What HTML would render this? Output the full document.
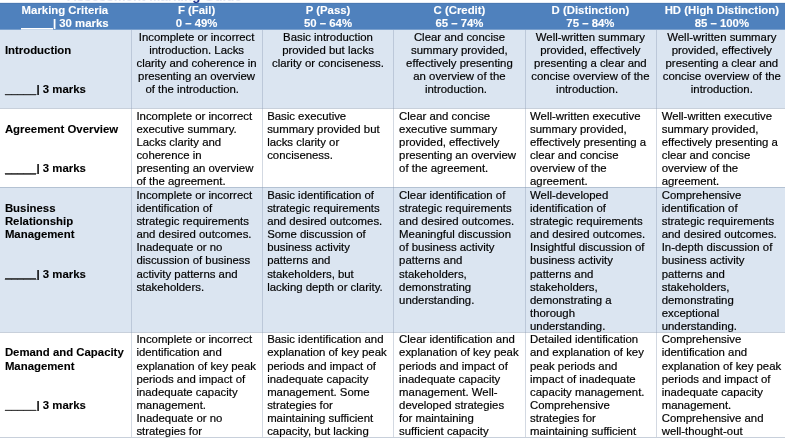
<!DOCTYPE html>
<html><head><meta charset="utf-8"><title>Marking Criteria</title>
<style>
html,body{margin:0;padding:0;background:#fff;}
body{width:785px;height:442px;position:relative;overflow:hidden;font-family:"Liberation Sans",Arial,sans-serif;font-size:11.39px;line-height:13.17px;color:#000;}
.bg{position:absolute;left:0;width:785px;}
.hd{background:#4f81bd;}
.lb{background:#dbe5f1;}
.vl{position:absolute;width:1px;background:#8496b0;opacity:.36;}
.hl{position:absolute;left:0;width:785px;height:1px;background:#8496b0;opacity:.45;}
.ul{position:absolute;}
.c{position:absolute;white-space:nowrap;-webkit-text-stroke:0.18px currentColor;}
.c div{height:13.17px;}
.h{color:#fff;font-weight:bold;text-align:center;-webkit-text-stroke:0.1px currentColor;}
.b{font-weight:bold;-webkit-text-stroke:0.1px currentColor;}
.ctr{text-align:center;}
.title{position:absolute;left:67px;color:#1f3590;font-weight:bold;font-size:13.33px;line-height:15px;top:-12.1px;z-index:5;text-shadow:0 1px 0 rgba(31,53,144,.13);white-space:nowrap;}
</style></head><body>

<div class="title">Assessment Marking Guide</div>
<div class="bg hd" style="top:3px;height:26.5px"></div>
<div class="bg lb" style="top:29.5px;height:78.8px"></div>
<div class="bg lb" style="top:187.3px;height:145.0px"></div>
<div class="bg" style="top:2px;height:1px;background:#e5ecf5"></div>
<div class="bg" style="top:3px;height:1px;background:#4b79b2"></div>
<div class="bg" style="top:29px;height:1px;background:#7aa0cd"></div>
<div class="ul" style="left:21px;top:28px;width:32px;height:1px;background:#fff"></div>
<div class="ul" style="left:21px;top:29px;width:32px;height:1px;background:#fff;opacity:.6"></div>
<div class="ul" style="left:5px;top:94px;width:31px;height:1px;background:#1c1c1c;opacity:0.65"></div>
<div class="ul" style="left:5px;top:95px;width:31px;height:1px;background:#1c1c1c;opacity:0.2"></div>
<div class="ul" style="left:5px;top:173px;width:31px;height:1px;background:#1c1c1c;opacity:0.6"></div>
<div class="ul" style="left:5px;top:174px;width:31px;height:1px;background:#1c1c1c;opacity:0.65"></div>
<div class="ul" style="left:5px;top:278px;width:31px;height:1px;background:#1c1c1c;opacity:0.8"></div>
<div class="ul" style="left:5px;top:279px;width:31px;height:1px;background:#1c1c1c;opacity:0.4"></div>
<div class="ul" style="left:5px;top:409px;width:31px;height:1px;background:#1c1c1c;opacity:0.15"></div>
<div class="ul" style="left:5px;top:410px;width:31px;height:1px;background:#1c1c1c;opacity:0.65"></div>
<div class="hl" style="top:107.8px"></div>
<div class="hl" style="top:186.8px"></div>
<div class="hl" style="top:331.8px"></div>
<div class="hl" style="top:436.8px"></div>
<div class="vl" style="left:131.1px;top:29.5px;height:407.8px"></div>
<div class="vl" style="left:262.1px;top:29.5px;height:407.8px"></div>
<div class="vl" style="left:392.9px;top:29.5px;height:407.8px"></div>
<div class="vl" style="left:525.0px;top:29.5px;height:407.8px"></div>
<div class="vl" style="left:656.2px;top:29.5px;height:407.8px"></div>
<div class="c h" style="left:-0.9px;width:131.6px;top:4.2px"><div>Marking Criteria</div><div>_____| 30 marks</div></div>
<div class="c h" style="left:131.1px;width:131.00000000000003px;top:4.2px"><div>F (Fail)</div><div>0 – 49%</div></div>
<div class="c h" style="left:262.6px;width:130.79999999999995px;top:4.2px"><div>P (Pass)</div><div>50 – 64%</div></div>
<div class="c h" style="left:393.4px;width:132.10000000000002px;top:4.2px"><div>C (Credit)</div><div>65 – 74%</div></div>
<div class="c h" style="left:524.8px;width:131.20000000000005px;top:4.2px"><div>D (Distinction)</div><div>75 – 84%</div></div>
<div class="c h" style="left:657.7px;width:128.29999999999995px;top:4.2px"><div>HD (High Distinction)</div><div>85 – 100%</div></div>
<div class="c b" style="left:4.9px;top:30.7px"><div></div><div>Introduction</div><div></div><div></div><div>_____| 3 marks</div></div>
<div class="c ctr" style="left:131.1px;width:131.00000000000003px;top:30.7px"><div>Incomplete or incorrect</div><div>introduction. Lacks</div><div>clarity and coherence in</div><div>presenting an overview</div><div style="position:relative;left:-4.4px">of the introduction.</div></div>
<div class="c ctr" style="left:262.6px;width:130.79999999999995px;top:30.7px"><div>Basic introduction</div><div>provided but lacks</div><div>clarity or conciseness.</div></div>
<div class="c ctr" style="left:393.4px;width:132.10000000000002px;top:30.7px"><div>Clear and concise</div><div>summary provided,</div><div>effectively presenting</div><div>an overview of the</div><div style="position:relative;left:-3.5px">introduction.</div></div>
<div class="c ctr" style="left:524.8px;width:131.20000000000005px;top:30.7px"><div>Well-written summary</div><div>provided, effectively</div><div>presenting a clear and</div><div>concise overview of the</div><div style="position:relative;left:-3.3px">introduction.</div></div>
<div class="c ctr" style="left:657.7px;width:128.29999999999995px;top:30.7px"><div>Well-written summary</div><div>provided, effectively</div><div>presenting a clear and</div><div>concise overview of the</div><div>introduction.</div></div>
<div class="c b" style="left:4.9px;top:109.7px"><div></div><div>Agreement Overview</div><div></div><div></div><div>_____| 3 marks</div></div>
<div class="c" style="left:136.4px;top:109.7px"><div>Incomplete or incorrect</div><div>executive summary.</div><div>Lacks clarity and</div><div>coherence in</div><div>presenting an overview</div><div>of the agreement.</div></div>
<div class="c" style="left:267.15000000000003px;top:109.7px"><div>Basic executive</div><div>summary provided but</div><div>lacks clarity or</div><div>conciseness.</div></div>
<div class="c" style="left:399.09999999999997px;top:109.7px"><div>Clear and concise</div><div>executive summary</div><div>provided, effectively</div><div>presenting an overview</div><div>of the agreement.</div></div>
<div class="c" style="left:530.05px;top:109.7px"><div>Well-written executive</div><div>summary provided,</div><div>effectively presenting a</div><div>clear and concise</div><div>overview of the</div><div>agreement.</div></div>
<div class="c" style="left:661.7px;top:109.7px"><div>Well-written executive</div><div>summary provided,</div><div>effectively presenting a</div><div>clear and concise</div><div>overview of the</div><div>agreement.</div></div>
<div class="c b" style="left:4.9px;top:188.7px"><div></div><div>Business</div><div>Relationship</div><div>Management</div><div></div><div></div><div>_____| 3 marks</div></div>
<div class="c" style="left:136.4px;top:188.7px"><div>Incomplete or incorrect</div><div>identification of</div><div>strategic requirements</div><div>and desired outcomes.</div><div>Inadequate or no</div><div>discussion of business</div><div>activity patterns and</div><div>stakeholders.</div></div>
<div class="c" style="left:267.15000000000003px;top:188.7px"><div>Basic identification of</div><div>strategic requirements</div><div>and desired outcomes.</div><div>Some discussion of</div><div>business activity</div><div>patterns and</div><div>stakeholders, but</div><div>lacking depth or clarity.</div></div>
<div class="c" style="left:399.09999999999997px;top:188.7px"><div>Clear identification of</div><div>strategic requirements</div><div>and desired outcomes.</div><div>Meaningful discussion</div><div>of business activity</div><div>patterns and</div><div>stakeholders,</div><div>demonstrating</div><div>understanding.</div></div>
<div class="c" style="left:530.05px;top:188.7px"><div>Well-developed</div><div>identification of</div><div>strategic requirements</div><div>and desired outcomes.</div><div>Insightful discussion of</div><div>business activity</div><div>patterns and</div><div>stakeholders,</div><div>demonstrating a</div><div>thorough</div><div>understanding.</div></div>
<div class="c" style="left:661.7px;top:188.7px"><div>Comprehensive</div><div>identification of</div><div>strategic requirements</div><div>and desired outcomes.</div><div>In-depth discussion of</div><div>business activity</div><div>patterns and</div><div>stakeholders,</div><div>demonstrating</div><div>exceptional</div><div>understanding.</div></div>
<div class="c b" style="left:4.9px;top:333.2px"><div></div><div>Demand and Capacity</div><div>Management</div><div></div><div></div><div>_____| 3 marks</div></div>
<div class="c" style="left:136.4px;top:333.2px"><div>Incomplete or incorrect</div><div>identification and</div><div>explanation of key peak</div><div>periods and impact of</div><div>inadequate capacity</div><div>management.</div><div>Inadequate or no</div><div>strategies for</div></div>
<div class="c" style="left:267.15000000000003px;top:333.2px"><div>Basic identification and</div><div>explanation of key peak</div><div>periods and impact of</div><div>inadequate capacity</div><div>management. Some</div><div>strategies for</div><div>maintaining sufficient</div><div>capacity, but lacking</div></div>
<div class="c" style="left:399.09999999999997px;top:333.2px"><div>Clear identification and</div><div>explanation of key peak</div><div>periods and impact of</div><div>inadequate capacity</div><div>management. Well-</div><div>developed strategies</div><div>for maintaining</div><div>sufficient capacity</div></div>
<div class="c" style="left:530.05px;top:333.2px"><div>Detailed identification</div><div>and explanation of key</div><div>peak periods and</div><div>impact of inadequate</div><div>capacity management.</div><div>Comprehensive</div><div>strategies for</div><div>maintaining sufficient</div></div>
<div class="c" style="left:661.7px;top:333.2px"><div>Comprehensive</div><div>identification and</div><div>explanation of key peak</div><div>periods and impact of</div><div>inadequate capacity</div><div>management.</div><div>Comprehensive and</div><div>well-thought-out</div></div>
</body></html>
